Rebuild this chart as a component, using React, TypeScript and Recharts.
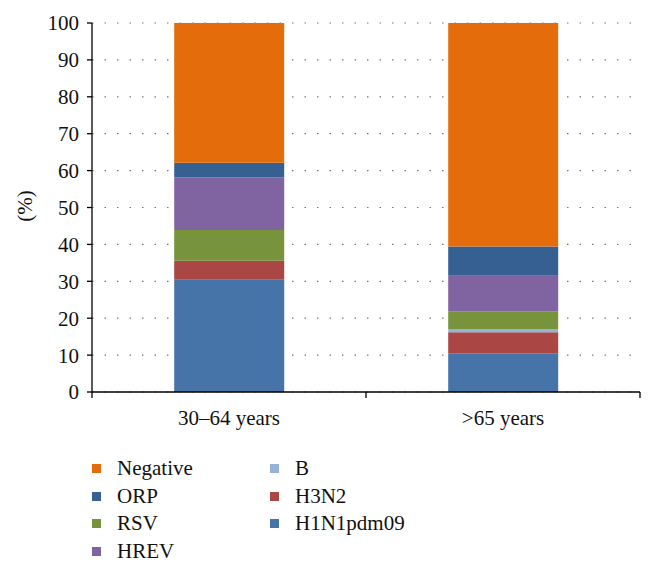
import { BarChart, Bar, XAxis, YAxis, CartesianGrid, Label } from 'recharts'

const ageGroups = ['30–64 years', '>65 years']

// values in % (stacked bottom to top)
const h1n1pdm09 = [30.4, 10.5]
const h3n2 = [5.2, 5.7]
const fluB = [0, 0.9]
const rsv = [8.3, 4.8]
const hrev = [14.2, 9.6]
const orp = [4.0, 7.9]
const negative = [37.9, 60.6]

const yTicks = [0, 10, 20, 30, 40, 50, 60, 70, 80, 90, 100]

const SERIES = [
  { key: 'H1N1pdm09', values: h1n1pdm09, color: '#4673A8' },
  { key: 'H3N2', values: h3n2, color: '#AA4643' },
  { key: 'B', values: fluB, color: '#95B3D7' },
  { key: 'RSV', values: rsv, color: '#77933C' },
  { key: 'HREV', values: hrev, color: '#8064A2' },
  { key: 'ORP', values: orp, color: '#376092' },
  { key: 'Negative', values: negative, color: '#E46C0A' },
]

// legend columns as in the figure
const legendColumns = [
  ['Negative', 'ORP', 'RSV', 'HREV'],
  ['B', 'H3N2', 'H1N1pdm09'],
]

const FONT = 'Liberation Serif, serif'
const CHART_W = 651
const CHART_H = 440
const MARGIN = { top: 23, right: 11, left: 0, bottom: 0 }
const Y_AXIS_W = 92
const BAND = (CHART_W - MARGIN.right - MARGIN.left - Y_AXIS_W) / ageGroups.length

const data = ageGroups.map((group, i) => {
  const row: Record<string, string | number> = { group }
  SERIES.forEach((s) => {
    row[s.key] = s.values[i]
  })
  return row
})

function CategoryTick(props: any) {
  const { x, y, payload, index, visibleTicksCount } = props
  const top = y - 8 // axis line position
  return (
    <g>
      <line x1={x - BAND / 2} x2={x - BAND / 2} y1={top} y2={top + 6} stroke="#000" strokeWidth={1.3} />
      {index === visibleTicksCount - 1 && (
        <line x1={x + BAND / 2} x2={x + BAND / 2} y1={top} y2={top + 6} stroke="#000" strokeWidth={1.3} />
      )}
      <text x={x} y={top + 33} textAnchor="middle" fill="#111" fontSize={21} style={{ fontFamily: FONT }}>
        {payload.value}
      </text>
    </g>
  )
}

export default function App() {
  const colorOf = (name: string) => SERIES.find((s) => s.key === name)?.color

  return (
    <div style={{ position: 'absolute', left: 0, top: 0, width: CHART_W, height: 572, background: '#fff', fontFamily: FONT }}>
      <BarChart width={CHART_W} height={CHART_H} data={data} margin={MARGIN} barCategoryGap="30%">
        <CartesianGrid
          horizontal
          vertical={false}
          stroke="#777"
          strokeWidth={1.2}
          strokeDasharray="1.5 11"
        />
        <XAxis
          dataKey="group"
          height={48}
          axisLine={{ stroke: '#000', strokeWidth: 1.3 }}
          tickLine={false}
          tick={<CategoryTick />}
          interval={0}
        />
        <YAxis
          width={Y_AXIS_W}
          domain={[0, 100]}
          ticks={yTicks}
          interval={0}
          axisLine={{ stroke: '#000', strokeWidth: 1.3 }}
          tickLine={{ stroke: '#000', strokeWidth: 1.3 }}
          tickSize={5}
          tickMargin={8}
          tick={{ fill: '#111', fontSize: 21, style: { fontFamily: FONT } }}
        >
          <Label
            content={() => (
              <text
                x={32}
                y={206}
                transform="rotate(-90 32 206)"
                textAnchor="middle"
                fill="#111"
                fontSize={21}
                style={{ fontFamily: FONT }}
              >
                (%)
              </text>
            )}
          />
        </YAxis>
        {SERIES.map((s) => (
          <Bar key={s.key} dataKey={s.key} stackId="a" fill={s.color} isAnimationActive={false} />
        ))}
      </BarChart>

      {/* legend */}
      <div style={{ position: 'absolute', top: 455, left: 92, display: 'flex', fontSize: 21, color: '#111' }}>
        {legendColumns.map((col, ci) => (
          <div key={ci} style={{ width: 178 }}>
            {col.map((name) => (
              <div key={name} style={{ display: 'flex', alignItems: 'center', height: 27.5 }}>
                <div style={{ width: 9, height: 9, background: colorOf(name), marginRight: 16 }} />
                <span>{name}</span>
              </div>
            ))}
          </div>
        ))}
      </div>
    </div>
  )
}
